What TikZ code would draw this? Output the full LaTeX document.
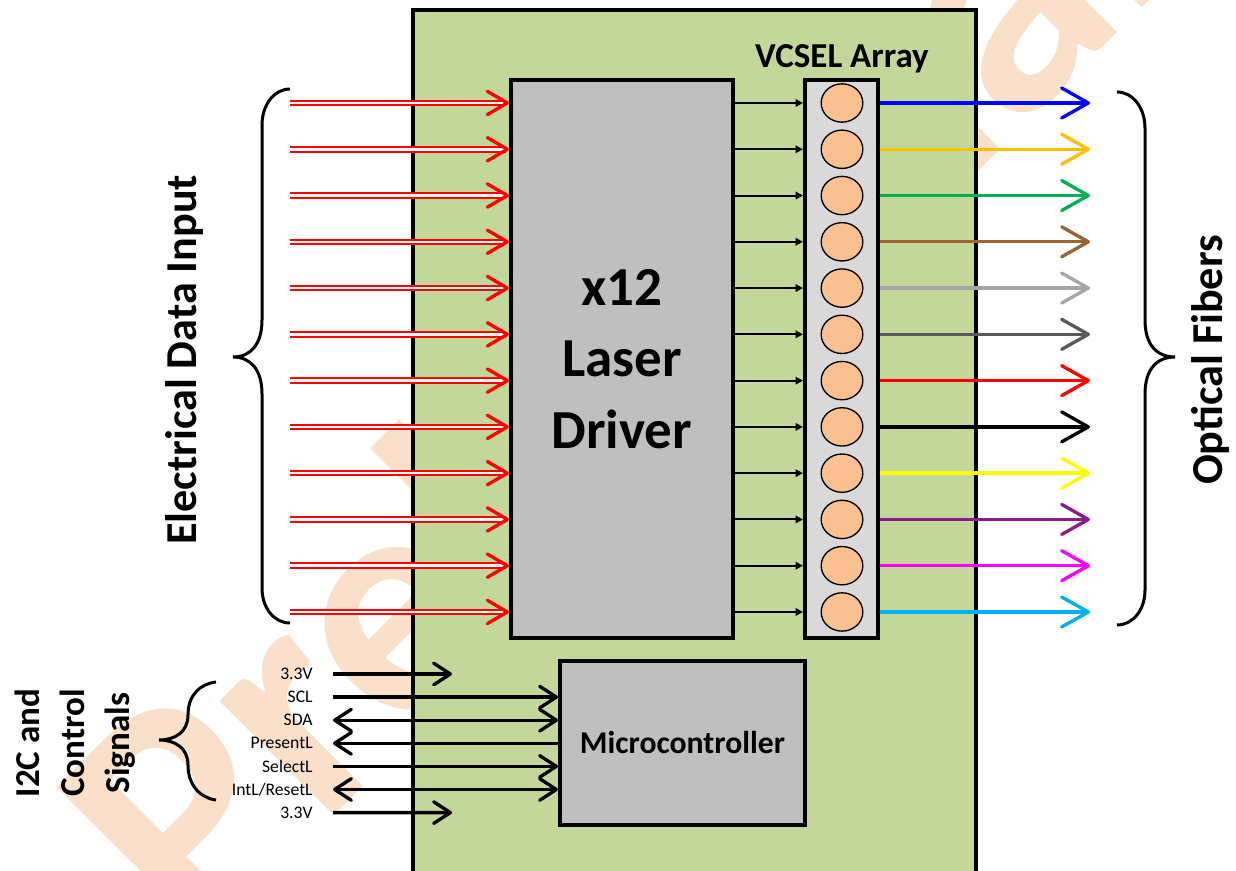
\documentclass[tikz,border=0pt]{standalone}
\usepackage{fontspec}
\setmainfont{Carlito}
\usetikzlibrary{arrows.meta, positioning, calc, shapes.geometric}

\definecolor{modgreen}{HTML}{C4D79B}
\definecolor{chipgrey}{HTML}{BFBFBF}
\definecolor{ledgrey}{HTML}{D9D9D9}
\definecolor{ledpeach}{HTML}{FAC090}
\definecolor{wmark}{HTML}{FADFC9}
\definecolor{fblue}{HTML}{0000FF}
\definecolor{fgold}{HTML}{FFC000}
\definecolor{fgreen}{HTML}{00B050}
\definecolor{fbrown}{HTML}{996633}
\definecolor{fltgrey}{HTML}{A6A6A6}
\definecolor{fdkgrey}{HTML}{595959}
\definecolor{fred}{HTML}{FF0000}
\definecolor{fblack}{HTML}{000000}
\definecolor{fyellow}{HTML}{FFFF00}
\definecolor{fpurple}{HTML}{8B1C8B}
\definecolor{fmagenta}{HTML}{FF00FF}
\definecolor{fcyan}{HTML}{00B0F0}

\begin{document}
\begin{tikzpicture}[x=0.6pt, y=-0.6pt,
	modbox/.style={rectangle, draw, line width=2.4pt, fill=modgreen, inner sep=0pt},
	chipbox/.style={rectangle, draw, line width=2.4pt, fill=chipgrey, inner sep=0pt, align=center},
	arraybox/.style={rectangle, draw, line width=2.4pt, fill=ledgrey, inner sep=0pt},
	led/.style={ellipse, draw, line width=0.8pt, fill=ledpeach, minimum width=25pt, minimum height=23pt, inner sep=0pt},
	datain/.style={red, double=white, double distance=1.5pt, line width=1.2pt, shorten >=2pt},
	datatip/.style={tips, red, line width=2pt, -{Straight Barb[round, length=12pt, width=14pt]}},
	drvarrow/.style={line width=1.2pt, -{Triangle[length=4.5pt, width=4.5pt]}},
	fiber/.style={line width=2pt, -{Straight Barb[round, length=16pt, width=18pt]}},
	sigarrow/.style={line width=2pt, >={Straight Barb[round, length=10pt, width=13pt]}},
	brace/.style={line width=1.8pt},
	siglabel/.style={font=\fontsize{10.6pt}{12pt}\selectfont, inner sep=0pt},
	bigtitle/.style={font=\fontsize{26.5pt}{30pt}\selectfont\bfseries, rotate=90}
	]
	\useasboundingbox (0,0) rectangle (1236,871);
	% watermark behind the module
	\node[rotate=45, anchor=base west, text=wmark, inner sep=0pt, font=\fontsize{200pt}{200pt}\selectfont\bfseries] (wm) at (196,954) {Preliminary};

	% module, driver, array and controller
	\node[modbox, minimum width=337.8pt, minimum height=534pt] (mod) at (694.5,455) {};
	\node[chipbox, minimum width=133.2pt, minimum height=334.8pt, font=\fontsize{33pt}{43pt}\selectfont\bfseries] (drv) at (622,359) {x12\\Laser\\Driver};
	\node[arraybox, minimum width=43.8pt, minimum height=334.8pt] (vcsel) at (841.5,359) {};
	\node[chipbox, minimum width=147pt, minimum height=98.4pt, font=\fontsize{19pt}{23pt}\selectfont\bfseries] (mcu) at (682.5,743) {Microcontroller};
	\node[anchor=base, font=\fontsize{21pt}{25pt}\selectfont\bfseries] (vlabel) at (842,68) {VCSEL Array};

	% twelve lanes
	\foreach \i/\c in {0/fblue, 1/fgold, 2/fgreen, 3/fbrown, 4/fltgrey, 5/fdkgrey, 6/fred, 7/fblack, 8/fyellow, 9/fpurple, 10/fmagenta, 11/fcyan}{
		\node[led] (led\i) at (842,{103+46.27*\i}) {};
		\coordinate (ein\i) at (290,{103+46.27*\i});
		\coordinate (fib\i) at (1090,{103+46.27*\i});
		\draw[datain] (ein\i) -- (ein\i -| drv.west);
		\path[datatip] (ein\i) -- (ein\i -| drv.west);
		\draw[drvarrow] (led\i -| drv.east) -- (led\i -| vcsel.west);
		\draw[fiber, \c] (led\i -| vcsel.east) -- (fib\i);
	}

	% control signals
	\foreach \i/\t in {0/3.3V, 1/SCL, 2/SDA, 3/PresentL, 4/SelectL, 5/IntL\slash ResetL, 6/3.3V}{
		\coordinate (sig\i) at (333,{674+23.1*\i});
		\node[siglabel, left=12pt of sig\i] (lab\i) {\t};
	}
	\coordinate (pwr0) at (452,674);
	\coordinate (pwr6) at (452,812.6);
	\draw[sigarrow, ->] (sig0) -- (pwr0);
	\draw[sigarrow, ->] (sig1) -- (sig1 -| mcu.west);
	\draw[sigarrow, <->] (sig2) -- (sig2 -| mcu.west);
	\draw[sigarrow, <-] (sig3) -- (sig3 -| mcu.west);
	\draw[sigarrow, ->] (sig4) -- (sig4 -| mcu.west);
	\draw[sigarrow, <->] (sig5) -- (sig5 -| mcu.west);
	\draw[sigarrow, ->] (sig6) -- (pwr6);

	% braces
	\draw[brace] (290,89) .. controls (274,89) and (262,105) .. (262,125) -- (262,320) .. controls (262,345) and (250,357) .. (233,357) .. controls (250,357) and (262,369) .. (262,394) -- (262,588) .. controls (262,608) and (274,623) .. (290,623);
	\draw[brace] (1117,92) .. controls (1133,92) and (1145,108) .. (1145,128) -- (1145,320) .. controls (1145,345) and (1157,357) .. (1175,357) .. controls (1157,357) and (1145,369) .. (1145,394) -- (1145,590) .. controls (1145,610) and (1133,625) .. (1117,625);
	\draw[brace] (216,682) .. controls (200,684) and (188,695) .. (188,715) .. controls (188,732) and (175,740) .. (159,740) .. controls (175,740) and (188,748) .. (188,765) .. controls (188,785) and (200,798) .. (216,800);

	% side titles
	\node[bigtitle] (elin) at (184,360) {Electrical Data Input};
	\node[bigtitle] (optf) at (1210,360) {Optical Fibers};
	\node[rotate=90, align=center, font=\fontsize{21pt}{27pt}\selectfont\bfseries] (ctrl) at (75,743) {I2C and\\Control\\Signals};
\end{tikzpicture}
\end{document}
